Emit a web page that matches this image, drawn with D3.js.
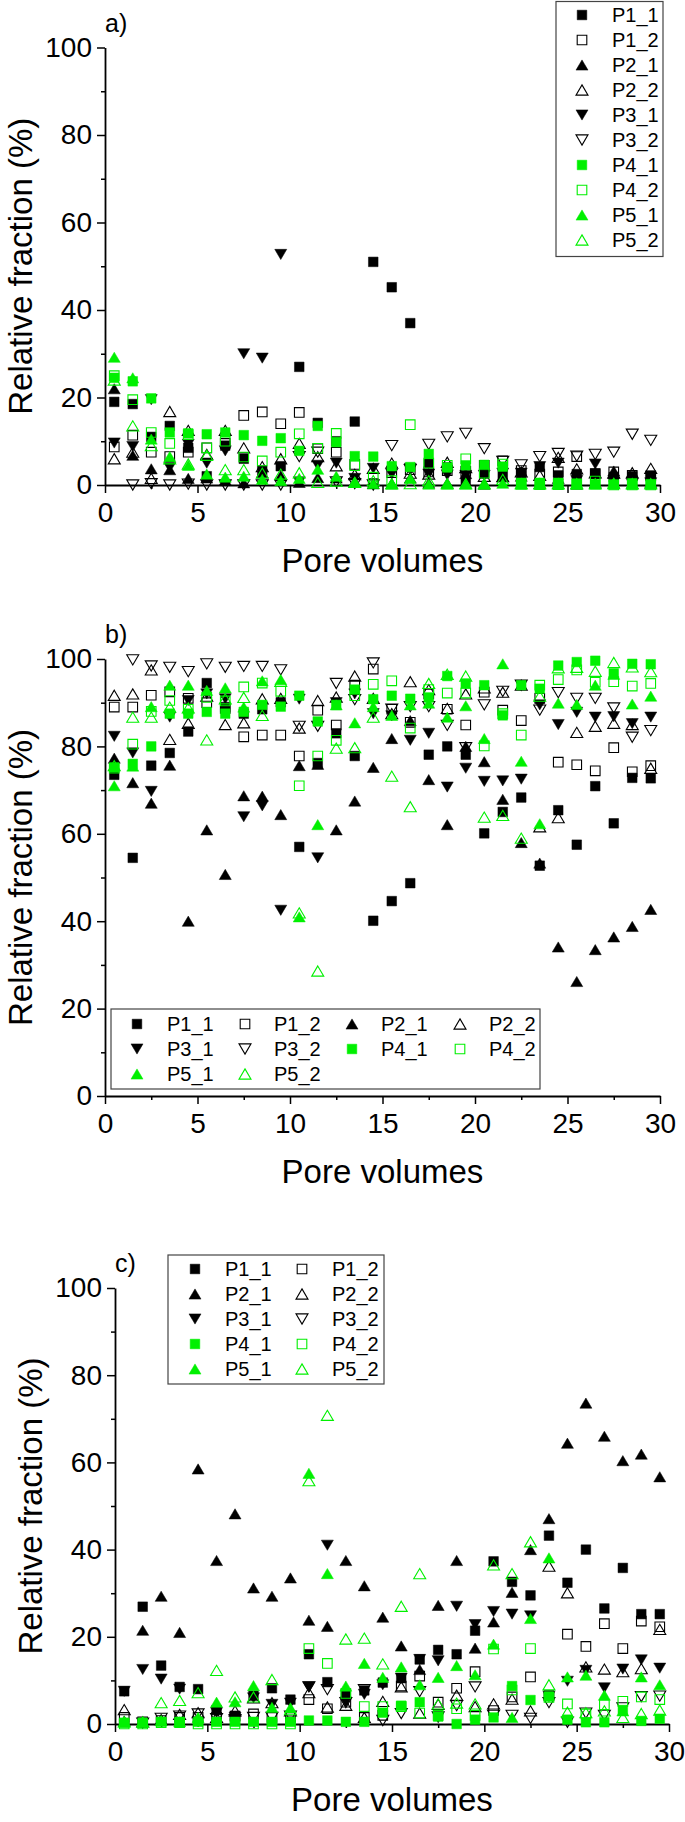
<!DOCTYPE html>
<html><head><meta charset="utf-8">
<script src="https://cdn.jsdelivr.net/npm/d3@7"></script>
<style>body{margin:0;background:#fff}svg{display:block}text{font-family:"Liberation Sans",Arial,sans-serif;fill:#000}</style>
</head><body><svg id="chart" width="685" height="1822"></svg>
<script>
const poreVolumes = [0.5,1.5,2.5,3.5,4.5,5.5,6.5,7.5,8.5,9.5,10.5,11.5,12.5,13.5,14.5,15.5,16.5,17.5,18.5,19.5,20.5,21.5,22.5,23.5,24.5,25.5,26.5,27.5,28.5,29.5];
const seriesNames = ["P1_1","P1_2","P2_1","P2_2","P3_1","P3_2","P4_1","P4_2","P5_1","P5_2"];
const xTickValues = [0,5,10,15,20,25,30];
const yTickValues = [0,20,40,60,80,100];
const panelLabels = ["a)","b)","c)"];
const xTitle = "Pore volumes";
const yTitle = "Relative fraction (%)";

// Panel a
const a_P1_1 = [19,18.5,11,13.5,8.5,2,9,6,3.3,4.3,27,14.2,10,14.5,51,45.2,37,4.9,4,0.5,2.6,2.4,2.2,4.1,2.2,2.5,2.6,1.8,2,2.1];
const a_P1_2 = [8.7,11.4,7.5,6.5,7.5,8.5,9.5,15.9,16.7,14,16.6,8.3,7.5,4.7,0.3,2.8,3.5,3,3.3,3.1,4.5,5.5,3.3,2.5,3,6.5,2.6,3,2.2,2.1];
const a_P2_1 = [22,6.8,3.7,3.5,1.5,1.6,1.1,0.5,2.8,2.1,0.6,1.7,1.6,0.8,0.3,0.3,1.6,0.4,0.4,2.6,0.2,1.9,2,0.3,1.5,0.2,0.5,3.2,0.3,0.6];
const a_P2_2 = [6,7.5,1.5,16.8,12.5,7,12.5,8.5,4.2,6,9.5,6.5,4.4,2.4,3.8,5,2.7,2.5,5.2,4,2,1.9,3,2.2,6.3,3.7,2.8,2.7,2.8,3.8];
const a_P3_1 = [9.6,8.8,19.5,4,9.3,5,7.8,30,29,52.7,0.7,4.5,5,1.5,3.8,2.5,3.8,2.5,2.3,2.2,2.2,2.7,2.7,4.2,5,1,4.8,0.6,0.3,0.5];
const a_P3_2 = [null,0,0.3,0,0.2,0,0,0,0,0,6.5,7.5,0.7,0.3,0,9,3.5,9.3,11,11.8,8.3,5.4,4.6,6.5,7.2,6.6,7,7.5,11.6,10.2];
const a_P4_1 = [24.5,23.7,19.8,12,11.8,11.6,12,11.4,10.1,10.7,7.8,13.5,9.8,6.6,6.5,4.3,4.1,7.1,4,4.5,4.6,4.2,0.5,0.5,0.5,0.3,0.2,0.1,0.4,0.2];
const a_P4_2 = [25,19.5,12,9.5,11.5,8.5,10,6.4,5.5,7.5,11.7,8.4,11.8,4.4,1.8,1,13.8,5,4.5,6,2.7,4.8,0.2,0.1,0.1,0.2,0.9,0,0,0];
const a_P5_1 = [29.2,24.5,10.5,6.5,4.5,2.5,1.8,2,1.3,1,1.5,3.6,2,0.7,0.3,0.2,1.5,0.2,0.2,0.2,0.2,0.4,0.2,0.2,0.2,0.2,0.2,0.5,0.2,0.2];
const a_P5_2 = [24,13.5,9,6,4.8,6.8,3.5,3.5,2.7,2.5,2.8,0.6,0.9,0.6,1,0.3,0.3,1,0.3,0.3,0.3,1.3,0.3,0.3,0.3,0.3,0.3,0.3,0.3,0.3];

// Panel b
const b_P1_1 = [73.5,54.5,75.6,78.5,83.4,94.5,89,87.5,88.5,90.1,57,76.2,83,77.8,40.1,44.6,48.7,78.1,80,78.1,60.1,65,68.3,52.7,65.4,57.5,70.9,62.4,72.8,72.7];
const b_P1_2 = [89,89,91.7,92.5,91,90,88.7,82.2,82.6,82.6,77.8,88.3,84.9,94,97.7,88.5,85.5,92,88.5,84.9,92.4,88.3,85.9,91,76.4,75.8,74.4,79.7,74.2,75.6];
const b_P2_1 = [77.3,71.7,67,75.7,40,60.9,50.7,68.7,68.6,64.4,75.6,75.9,60.9,67.5,75.2,81.8,85.9,72.4,62.1,80,76.5,67.9,58,53.3,34.1,26.2,33.5,36.4,38.8,42.7];
const b_P2_2 = [91.7,92,97.5,81.6,85.3,91.5,85,85.4,90.9,91,84.2,90.5,91.3,96.1,91,87.5,94.8,93,88.7,92,93.4,92.4,94,61.6,63.7,83.2,84.6,85.3,85,75];
const b_P3_1 = [82.3,78.5,69.7,86.7,90.5,92,90.9,63.9,66.4,42.5,90.8,54.5,90,92,87.5,87,81.4,83,70.7,75,72,72.1,72.5,89.5,85,87.8,86.7,86.8,85.2,86.7];
const b_P3_2 = [null,99.8,98.4,98.1,97.1,98.9,98.1,98.3,98.3,97.5,84.6,84.6,94.4,90.7,99.1,88.5,89.1,89.1,84.8,79.7,89.5,92.6,94,88.3,92.3,91,91,88.8,82.1,83.6];
const b_P4_1 = [75.2,76,80,87.5,87.5,87.9,87.5,87.9,89.5,89.1,91.6,85.7,89.5,93,90.8,91.6,90.9,91.2,96.1,94.4,94,87.1,94,93.2,98.5,99.3,99.6,96.7,98.9,98.8];
const b_P4_2 = [75,80.5,88,90.5,88.5,91.2,90.4,93.6,94.5,92.6,71,77.8,81.4,91.6,94.2,95,84.2,93,92.2,92.2,80.1,87.5,82.6,94,95.3,97.5,94.7,94.8,93.8,94.4];
const b_P5_1 = [71,75.5,89.1,94,94,92.8,93.4,89,95,95.3,41,62.1,89.5,85.4,89.1,87.1,89.5,89.9,86.7,89.3,81.8,98.9,76.6,62.3,89.9,89.6,94,96.5,89.7,91.5];
const b_P5_2 = [75.6,86.7,86.7,89,88.8,81.5,90.9,91.2,87.1,94.9,41.9,28.6,79.6,79.7,86.7,73.2,66.2,94.4,96.5,96.1,63.8,64.2,59,91.5,98,98.1,97.2,99.2,98.2,97.1];

// Panel c
const c_P1_1 = [7.5,26.9,13.4,8.5,8,3.2,1.8,6.5,8.2,5.6,16,9.6,7,7.7,9.5,10.5,14.8,17,16,21.4,37.3,32.6,29.5,43.2,32.4,40,26.5,35.8,25.2,25.2];
const c_P1_2 = [1.5,0.5,0.8,1.5,1.5,1.5,1.8,2.3,1.5,1.5,5.6,3.5,5,1.5,2,8.7,11,5,8.2,12,3.1,6.2,10.8,6.5,20.6,17.8,23,17.3,23.6,22.3];
const c_P2_1 = [0.7,21.5,29.3,21,58.5,37.5,48.2,31.2,29.3,33.5,23.8,22.4,37.5,31.7,24.5,17.9,12.5,27.2,37.5,17.4,23.4,30.2,40,47.1,64.4,73.6,66,60.4,61.9,56.7];
const c_P2_2 = [3.3,0.5,1,2.2,2.6,1.5,3,6,4.9,3,7.2,3.9,4.3,1.5,5.2,8.5,2.5,4.5,6.6,4,4.6,5.7,3,36.2,30.1,13.1,12.6,12,12.7,21.7];
const c_P3_1 = [7.5,12.5,10.3,8,0.5,2.6,1.5,6,4.5,4.8,8.5,41,5,6.8,9,10.5,14.8,14.5,27,22.8,25.8,25.2,24.8,6.3,9.8,12.3,8.3,12.6,14.7,12.8];
const c_P3_2 = [null,0.2,1.3,1.8,2.3,1.2,1,1.5,1.5,1.8,8.5,7.9,4.9,7.9,0.8,2.4,7.4,1.6,4.2,8.5,2,2,1.3,4.9,0.4,2.5,2,3.7,6.3,6.4];
const c_P4_1 = [0.3,0.3,0.5,0.5,0.5,0.5,0.5,0.5,0.5,0.5,0.8,0.8,0.5,0.5,2.6,4.2,5,1.7,0,1,1.5,8.7,5.5,6.3,1,0.4,0.4,3.2,0.7,1.2];
const c_P4_2 = [0,0,0.3,0.3,0,0,0,0,0,0,17.3,13.9,7,4,4,4,2.5,2,3.5,2,17.2,7.8,17.3,6.1,4.6,2.3,4.4,5.2,6.2,5.6];
const c_P5_1 = [0.5,0.5,0.8,0.5,1.5,5,5.1,8.8,3.8,3.7,57.5,34.5,8.7,13.9,10.7,13.1,9,10.7,13.4,11.3,18.3,1.5,24.2,38.1,10.8,11.2,6.6,3,10.8,9];
const c_P5_2 = [0.5,0.5,4.9,5.4,7.2,12.3,6.2,6.2,10.2,3.3,55.8,70.8,19.5,19.7,13.8,27,34.5,4.6,4.8,4.6,36.5,34.5,41.8,9,2.7,2.6,3,1.5,2.4,3.2];

const panelAData = [a_P1_1,a_P1_2,a_P2_1,a_P2_2,a_P3_1,a_P3_2,a_P4_1,a_P4_2,a_P5_1,a_P5_2];
const panelBData = [b_P1_1,b_P1_2,b_P2_1,b_P2_2,b_P3_1,b_P3_2,b_P4_1,b_P4_2,b_P5_1,b_P5_2];
const panelCData = [c_P1_1,c_P1_2,c_P2_1,c_P2_2,c_P3_1,c_P3_2,c_P4_1,c_P4_2,c_P5_1,c_P5_2];

const GREEN = "#00f000";
const styles = {
  P1_1:{shape:"sq",fill:true,color:"#000"}, P1_2:{shape:"sq",fill:false,color:"#000"},
  P2_1:{shape:"up",fill:true,color:"#000"}, P2_2:{shape:"up",fill:false,color:"#000"},
  P3_1:{shape:"dn",fill:true,color:"#000"}, P3_2:{shape:"dn",fill:false,color:"#000"},
  P4_1:{shape:"sq",fill:true,color:GREEN}, P4_2:{shape:"sq",fill:false,color:GREEN},
  P5_1:{shape:"up",fill:true,color:GREEN}, P5_2:{shape:"up",fill:false,color:GREEN}
};
const symSquare = {draw(ctx){const s=4.8;ctx.moveTo(-s,-s);ctx.lineTo(s,-s);ctx.lineTo(s,s);ctx.lineTo(-s,s);ctx.closePath();}};
const symUp = {draw(ctx){const w=6,h=5.1;ctx.moveTo(0,-h);ctx.lineTo(w,h);ctx.lineTo(-w,h);ctx.closePath();}};
const symDown = {draw(ctx){const w=6,h=5.1;ctx.moveTo(0,h);ctx.lineTo(w,-h);ctx.lineTo(-w,-h);ctx.closePath();}};
const symPath = {sq:d3.symbol(symSquare)(), up:d3.symbol(symUp)(), dn:d3.symbol(symDown)()};

function drawMarker(g, name, x, y){
  const st = styles[name];
  g.append("path").attr("d", symPath[st.shape]).attr("transform", `translate(${x},${y})`)
    .attr("fill", st.fill ? st.color : "none").attr("stroke", st.color)
    .attr("stroke-width", st.fill ? 0.5 : 1.1);
}

const svg = d3.select("#chart");

const panels = [
  {data:panelAData, x0:105, x1:660, yTop:47.5, yBot:485, label:panelLabels[0],
   legend:{box:[556,1.5,107,255], cols:1, colX:[582], textX:[612], rowY:[15,40,65,90,115,140,165,190,215,240],
           order:["P1_1","P1_2","P2_1","P2_2","P3_1","P3_2","P4_1","P4_2","P5_1","P5_2"]}},
  {data:panelBData, x0:105, x1:660, yTop:659, yBot:1096, label:panelLabels[1],
   legend:{box:[111,1009,429,80], cols:4, colX:[137,245,352,460], textX:[167,274,381,489], rowY:[1024,1049,1074],
           order:["P1_1","P1_2","P2_1","P2_2","P3_1","P3_2","P4_1","P4_2","P5_1","P5_2"]}},
  {data:panelCData, x0:115, x1:669, yTop:1288, yBot:1724, label:panelLabels[2],
   legend:{box:[168,1255,216,129], cols:2, colX:[195,302], textX:[225,332], rowY:[1269,1294,1319,1344,1369],
           order:["P1_1","P1_2","P2_1","P2_2","P3_1","P3_2","P4_1","P4_2","P5_1","P5_2"]}}
];

panels.forEach(p => {
  const x = d3.scaleLinear().domain([0,30]).range([p.x0,p.x1]);
  const y = d3.scaleLinear().domain([0,100]).range([p.yBot,p.yTop]);
  const g = svg.append("g");

  g.append("g").attr("transform",`translate(0,${p.yBot})`)
    .call(d3.axisBottom(x).tickValues([2.5,7.5,12.5,17.5,22.5,27.5]).tickSize(4).tickSizeOuter(0).tickFormat(""))
    .call(a=>a.select(".domain").remove()).selectAll("line").attr("stroke-width",1.5);
  g.append("g").attr("transform",`translate(${p.x0},0)`)
    .call(d3.axisLeft(y).tickValues([10,30,50,70,90]).tickSize(4).tickSizeOuter(0).tickFormat(""))
    .call(a=>a.select(".domain").remove()).selectAll("line").attr("stroke-width",1.5);

  const xa = g.append("g").attr("transform",`translate(0,${p.yBot})`)
    .call(d3.axisBottom(x).tickValues(xTickValues).tickSize(8).tickSizeOuter(0).tickPadding(9).tickFormat(d3.format("d")));
  const ya = g.append("g").attr("transform",`translate(${p.x0},0)`)
    .call(d3.axisLeft(y).tickValues(yTickValues).tickSize(8).tickSizeOuter(0).tickPadding(5).tickFormat(d3.format("d")));
  [xa,ya].forEach(a=>{
    a.attr("font-family",null).attr("font-size",null);
    a.selectAll("text").attr("font-size",28).attr("fill","#000");
    a.selectAll("line").attr("stroke-width",1.5);
    a.select(".domain").attr("stroke-width",1.8);
  });

  g.append("text").attr("x",(p.x0+p.x1)/2).attr("y",p.yBot+87).attr("text-anchor","middle")
    .attr("font-size",33).text(xTitle);
  g.append("text").attr("transform",`translate(${p.x0-73},${(p.yTop+p.yBot)/2}) rotate(-90)`)
    .attr("text-anchor","middle").attr("font-size",33).text(yTitle);
  g.append("text").attr("x",p.x0).attr("y",p.yTop-16).attr("font-size",25).text(p.label);

  seriesNames.forEach((name,i)=>{
    const sg = g.append("g");
    p.data[i].forEach((v,j)=>{
      if(v===null) return;
      drawMarker(sg, name, x(poreVolumes[j]), y(v));
    });
  });

  const L = p.legend;
  const lg = g.append("g");
  lg.append("rect").attr("x",L.box[0]).attr("y",L.box[1]).attr("width",L.box[2]).attr("height",L.box[3])
    .attr("fill","#fff").attr("stroke","#444").attr("stroke-width",1.2);
  L.order.forEach((name,k)=>{
    const r = Math.floor(k / L.cols), c = k % L.cols;
    drawMarker(lg, name, L.colX[c], L.rowY[r]);
    lg.append("text").attr("x",L.textX[c]).attr("y",L.rowY[r]+7).attr("font-size",20).text(name);
  });
});
</script></body></html>
